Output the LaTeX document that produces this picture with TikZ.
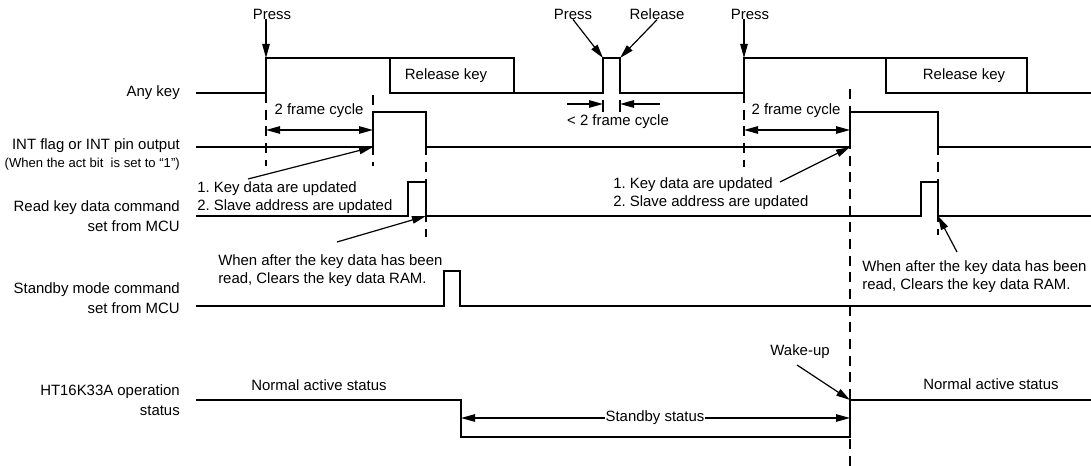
\documentclass[tikz,border=0pt]{standalone}
\usepackage{fontspec}
\setmainfont{Liberation Sans}
\usetikzlibrary{arrows.meta}
\frenchspacing
\begin{document}
\begin{tikzpicture}[x=0.75pt,y=-0.75pt,
  sig/.style={line width=1.1pt},
  tick/.style={line width=0.8pt},
  dsh/.style={line width=1pt,dash pattern=on 7.5pt off 5pt},
  arr/.style={line width=0.9pt,-{Triangle[length=10.5pt,width=5.6pt]}},
  darr/.style={line width=0.9pt,{Triangle[length=10.5pt,width=5.6pt]}-{Triangle[length=10.5pt,width=5.6pt]}},
  txt/.style={font=\fontsize{11.2}{13.5}\selectfont,inner sep=0pt},
  lbl/.style={anchor=east,align=right,inner sep=0pt,font=\fontsize{11.2}{14.5}\selectfont},
  note/.style={txt,anchor=west,align=left},
]
\useasboundingbox (0,0) rectangle (1091,466);

% ---------- edge coordinates ----------
\coordinate (kr1) at (266,58);
\coordinate (kp1) at (603,58);
\coordinate (kp2) at (620,58);
\coordinate (kr2) at (744,58);
\coordinate (ir1) at (373,147);
\coordinate (ir2) at (850,147);
\coordinate (rf1) at (426,216);
\coordinate (rf2) at (938,216);
\coordinate (wk) at (850,400);

% ---------- labels ----------
\node[lbl] (lAny) at (180,93) {Any key};
\node[lbl] (lInt) at (180,146) {INT flag or INT pin output};
\node[lbl,font=\fontsize{9.8}{12}\selectfont] (lIntSub) at (180,164) {(When the act bit\ \ is set to “1”)};
\node[lbl] (lRead) at (180,216) {Read key data command\\set from MCU};
\node[lbl] (lStby) at (180,298) {Standby mode command\\set from MCU};
\node[lbl] (lHT) at (180,400) {HT16K33A operation\\status};

% ---------- dashed guides ----------
\draw[dsh] (266,93) -- (266,166);
\draw[dsh] (373,95) -- (373,166);
\draw[dsh] (426,112) -- (426,237);
\draw[dsh] (744,93) -- (744,167);
\draw[dsh] (850,89) -- (850,466);
\draw[dsh] (938,112) -- (938,235);
\draw[tick] (603,100) -- (603,112);
\draw[tick] (620,100) -- (620,112);

% ---------- waveforms ----------
\draw[sig] (196,93) -- (266,93) -- (266,58) -- (514,58) -- (514,93) -- (603,93) -- (603,58) -- (620,58) -- (620,93) -- (744,93) -- (744,58) -- (1027,58) -- (1027,93) -- (1091,93);
\draw[sig] (390,58) -- (390,93) -- (514,93);
\draw[sig] (886,58) -- (886,93) -- (1027,93);
\draw[sig] (196,147) -- (373,147) -- (373,112) -- (426,112) -- (426,147) -- (850,147) -- (850,112) -- (938,112) -- (938,147) -- (1091,147);
\draw[sig] (196,216) -- (408,216) -- (408,182) -- (426,182) -- (426,216) -- (921,216) -- (921,182) -- (938,182) -- (938,216) -- (1091,216);
\draw[sig] (196,306) -- (444,306) -- (444,271) -- (460,271) -- (460,306) -- (1091,306);
\draw[sig] (196,400) -- (461,400) -- (461,437) -- (850,437) -- (850,400) -- (1091,400);

% ---------- texts ----------
\node[txt] (rk1) at (446,76) {Release key};
\node[txt] (rk2) at (964,76) {Release key};
\node[txt] (press1) at (272,14) {Press};
\node[txt] (press2) at (573,14) {Press};
\node[txt] (rel) at (657,14) {Release};
\node[txt] (press3) at (750,14) {Press};
\node[txt] (fc1) at (319,111) {2 frame cycle};
\node[txt] (fc2) at (796,111) {2 frame cycle};
\node[txt] (lt) at (618,122) {< 2 frame cycle};
\node[note] (upd1) at (197,197.5) {1. Key data are updated\\2. Slave address are updated};
\node[note] (upd2) at (613,193.5) {1. Key data are updated\\2. Slave address are updated};
\node[note] (clr1) at (218,270.5) {When after the key data has been\\read, Clears the key data RAM.};
\node[note] (clr2) at (862,276.5) {When after the key data has been\\read, Clears the key data RAM.};
\node[txt] (wake) at (800,352) {Wake-up};
\node[txt] (norm1) at (319,385) {Normal active status};
\node[txt] (norm2) at (991,384) {Normal active status};

% ---------- arrows ----------
\draw[arr] (press1.south -| kr1) -- (kr1);
\draw[arr] (press2.south) -- (kp1);
\draw[arr] (rel.south) -- (kp2);
\draw[arr] (press3.south -| kr2) -- (kr2);

\coordinate (ta) at (567,104);
\coordinate (tb) at (603,104);
\coordinate (tc) at (660,104);
\coordinate (td) at (620,104);
\draw[arr] (ta) -- (tb);
\draw[arr] (tc) -- (td);

\coordinate (f1a) at (266,130);
\coordinate (f1b) at (373,130);
\coordinate (f2a) at (744,130);
\coordinate (f2b) at (850,130);
\draw[darr] (f1a) -- (f1b);
\draw[darr] (f2a) -- (f2b);

\coordinate (u1t) at (248,179);
\coordinate (u2t) at (780,182);
\coordinate (c1t) at (337,242);
\coordinate (c2t) at (957,252);
\coordinate (wt) at (797,365);
\draw[arr] (u1t) -- (ir1);
\draw[arr] (u2t) -- (ir2);
\draw[arr] (c1t) -- (rf1);
\draw[arr] (c2t) -- (rf2);
\draw[arr] (wt) -- (wk);

\coordinate (sa) at (461,418);
\coordinate (sb) at (850,418);
\draw[darr] (sa) -- (sb);
\node[txt,fill=white,inner xsep=0.6pt] (stby) at (655,418) {Standby status};
\end{tikzpicture}
\end{document}
